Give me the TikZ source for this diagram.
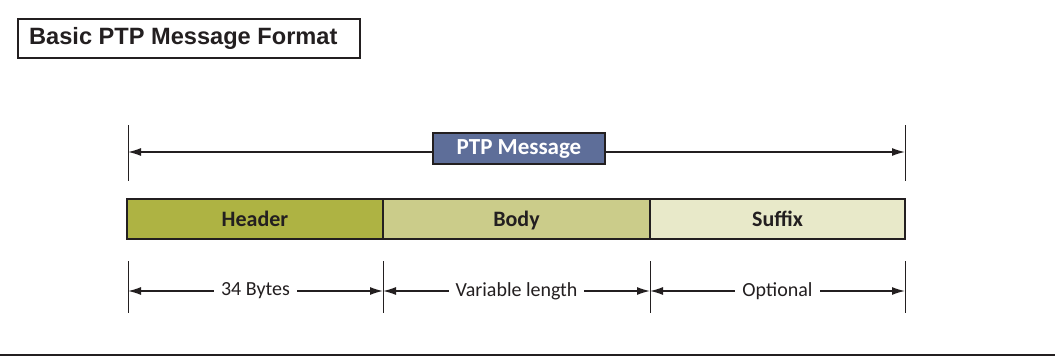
\documentclass[tikz,border=0pt]{standalone}
\usepackage{fontspec}
\setmainfont{Carlito}
\newfontfamily\titlefont{Liberation Sans}
\usetikzlibrary{arrows.meta}
\definecolor{lineclr}{HTML}{231F20}
\definecolor{hdrclr}{HTML}{AEB343}
\definecolor{bodyclr}{HTML}{CBCC8A}
\definecolor{sufclr}{HTML}{E8E9C9}
\definecolor{msgclr}{HTML}{5E6E99}
\tikzset{
  seg/.style={draw=lineclr, line width=2.2pt, outer sep=0pt, minimum height=40pt, inner sep=0pt,
    font=\fontsize{22}{24}\selectfont\bfseries, text=lineclr, text height=15pt, text depth=0pt},
  tick/.style={draw=lineclr, line width=1pt},
  dim/.style={draw=lineclr, line width=1.4pt, {Latex[length=13pt,width=8pt]}-{Latex[length=13pt,width=8pt]}},
  dimlabel/.style={fill=white, inner xsep=7pt, inner ysep=2pt, font=\fontsize{20}{24}\selectfont, text=lineclr},
}
\begin{document}
\begin{tikzpicture}[x=1pt,y=-1pt]
\useasboundingbox (0,0) rectangle (1055,356);
% title
\node[draw=lineclr, line width=1.8pt, outer sep=0pt, minimum width=342pt, minimum height=39pt, inner sep=0pt, anchor=north west] (title) at (18,19) {};
\node[anchor=west, inner sep=0pt, font=\titlefont\fontsize{23.6}{26}\selectfont\bfseries, text=lineclr] (titletext) at (29,38.5) {Basic PTP Message Format};
% top ticks
\coordinate (ta) at (128,125); \coordinate (tb) at (128,181);
\coordinate (tc) at (905,125); \coordinate (td) at (905,181);
\draw[tick] (ta) -- (tb);
\draw[tick] (tc) -- (td);
\coordinate (ml) at (128,152); \coordinate (mr) at (905,152);
\draw[dim] (ml) -- (mr);
\node[draw=lineclr, line width=1.8pt, outer sep=0pt, fill=msgclr, minimum width=172pt, minimum height=31pt, inner sep=0pt,
      font=\fontsize{23}{24}\selectfont\bfseries, text=white] (msg) at (519,148.5) {PTP Message};
% bar
\node[seg, fill=hdrclr, minimum width=256pt, anchor=north west] (hdr) at (127,199) {Header};
\node[seg, fill=bodyclr, minimum width=267pt, anchor=north west] (body) at (hdr.north east) {Body};
\node[seg, fill=sufclr, minimum width=255pt, anchor=north west] (suf) at (body.north east) {Suffix};
% bottom ticks
\foreach \n/\x in {b1/128, b2/383, b3/650, b4/905}{
  \coordinate (\n t) at (\x,261); \coordinate (\n b) at (\x,313); \coordinate (\n) at (\x,291);
  \draw[tick] (\n t) -- (\n b);
}
\draw[dim] (b1) -- node[dimlabel] (l1) {34 Bytes} (b2);
\draw[dim] (b2) -- node[dimlabel] (l2) {Variable length} (b3);
\draw[dim] (b3) -- node[dimlabel] (l3) {Optional} (b4);
% bottom rule
\coordinate (r1) at (0,355); \coordinate (r2) at (1055,355);
\draw[draw=lineclr, line width=1.5pt] (r1) -- (r2);
\end{tikzpicture}
\end{document}
